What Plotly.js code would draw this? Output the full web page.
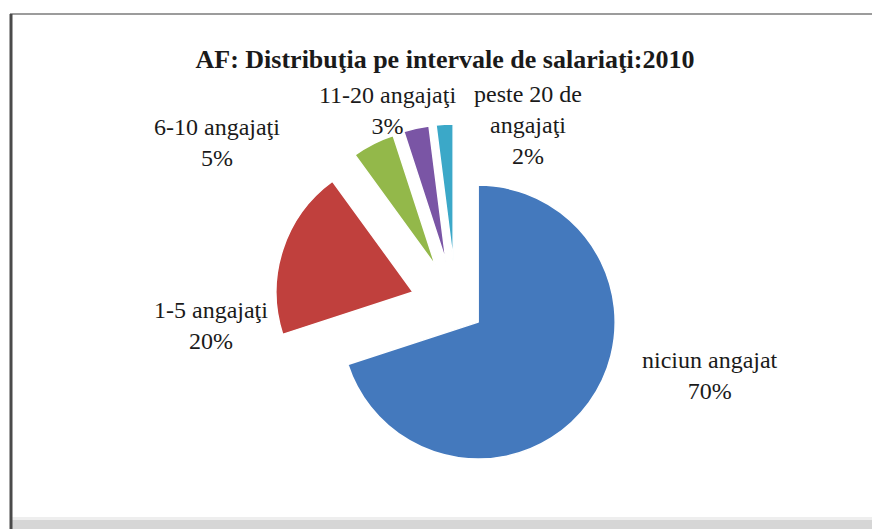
<!DOCTYPE html>
<html>
<head>
<meta charset="utf-8">
<script src="https://cdn.plot.ly/plotly-3.0.1.min.js"></script>
<style>
  html, body { margin: 0; padding: 0; background: #fdfdfd; }
  #chart { width: 872px; height: 529px; }
</style>
</head>
<body>
<div id="chart"></div>
<script>
// Chart data
const chartTitle = "AF: Distribuţia pe intervale de salariaţi:2010";
const categories = ["niciun angajat", "1-5 angajaţi", "6-10 angajaţi", "11-20 angajaţi", "peste 20 de angajaţi"];
const displayLabels = ["niciun angajat", "1-5 angajaţi", "6-10 angajaţi", "11-20 angajaţi", "peste 20 de<br>angajaţi"];
const shares = [70, 20, 5, 3, 2];
const sliceColors = ["#4479bd", "#c0403d", "#93b84a", "#7a55a5", "#3ba8c8"];
const slicePull = [0.2, 0.33, 0.33, 0.33, 0.33];

// Label positions in pixels (centre of each text block)
const labelPos = [[710, 375], [211, 325], [217, 142], [387, 110], [528, 125]];

const W = 872, H = 529;
const px = (x) => x / W;
const py = (y) => 1 - y / H;

const total = shares.reduce((a, b) => a + b, 0);

// Pie centre and radius
const cx = 456, cy = 306, r = 137;
const half = r * (1 + Math.max(...slicePull));

const pieTrace = {
  type: "pie",
  labels: categories,
  values: shares,
  sort: false,
  direction: "clockwise",
  rotation: 0,
  pull: slicePull,
  textinfo: "none",
  hoverinfo: "label+percent",
  marker: { colors: sliceColors, line: { color: "#ffffff", width: 1.5 } },
  domain: { x: [px(cx - half), px(cx + half)], y: [py(cy + half), py(cy - half)] },
  showlegend: false
};

const serif = "Liberation Serif";
const labelFont = { family: serif, size: 24, color: "#1a1a1a" };

const annotations = categories.map((c, i) => ({
  text: displayLabels[i] + "<br>" + Math.round(shares[i] / total * 100) + "%",
  x: px(labelPos[i][0]), y: py(labelPos[i][1]),
  xref: "paper", yref: "paper",
  xanchor: "center", yanchor: "middle",
  align: "center",
  showarrow: false,
  font: labelFont
}));

// Frame around the chart area
const shapes = [
  { type: "rect", xref: "paper", yref: "paper", x0: px(11), x1: px(880), y0: py(520), y1: py(529),
    fillcolor: "#d6d6d6", line: { width: 0 }, layer: "below" },
  { type: "rect", xref: "paper", yref: "paper", x0: px(11), x1: px(880), y0: py(517), y1: py(520),
    fillcolor: "#eeeeee", line: { width: 0 }, layer: "below" },
  { type: "line", xref: "paper", yref: "paper", x0: px(10), x1: px(880), y0: py(14), y1: py(14),
    line: { color: "#9c9c9c", width: 2 } },
  { type: "line", xref: "paper", yref: "paper", x0: px(11), x1: px(11), y0: py(14), y1: py(529),
    line: { color: "#4a4a4a", width: 3 } }
];

const layout = {
  width: W, height: H,
  margin: { l: 0, r: 0, t: 0, b: 0 },
  paper_bgcolor: "#ffffff",
  font: { family: serif },
  title: {
    text: "<b>" + chartTitle + "</b>",
    x: px(445), y: py(59), xanchor: "center", yanchor: "middle",
    font: { family: serif, size: 26, color: "#1a1a1a" }
  },
  annotations: annotations,
  shapes: shapes
};

Plotly.newPlot("chart", [pieTrace], layout, { displayModeBar: false, staticPlot: true });
</script>
</body>
</html>
